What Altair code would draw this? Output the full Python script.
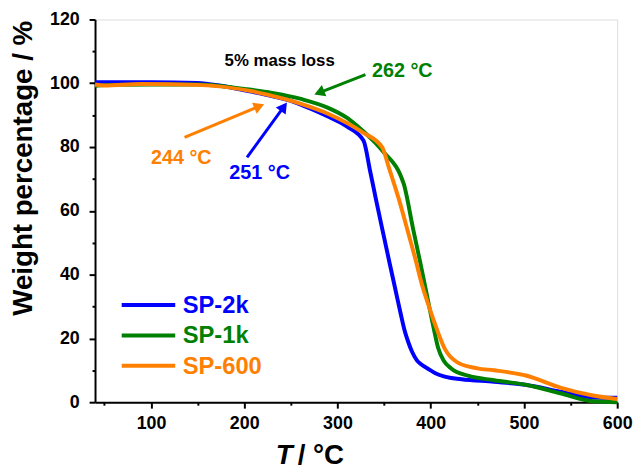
import math
import altair as alt
import pandas as pd

# ---------------- data ----------------
series = ["SP-2k", "SP-1k", "SP-600"]
colors = ["#0000FF", "#008000", "#FF8000"]

T_2k = [40, 100, 150, 175, 200, 225, 250, 270, 291, 310, 328, 335, 341, 349, 356, 362, 368, 372, 376, 380, 385, 390, 397, 405, 415, 433, 468, 503, 539, 574, 600]
W_2k = [100.3, 100.3, 100.1, 99.2, 97.8, 96.3, 94.5, 92.2, 89.4, 86.5, 82.0, 72.5, 64.0, 53.0, 43.5, 35.5, 27.5, 22.5, 18.8, 15.8, 13.2, 11.8, 10.5, 9.1, 8.0, 7.2, 6.4, 5.4, 3.3, 1.5, 1.4]

T_1k = [40, 60, 100, 150, 200, 230, 262, 290, 310, 327, 348, 371, 381, 389, 397, 403, 408, 414, 422, 440, 468, 503, 539, 574, 600]
W_1k = [99.2, 99.5, 99.6, 99.6, 98.2, 97.0, 95.0, 92.3, 89.2, 85.1, 78.9, 68.5, 54.5, 43.5, 32.0, 23.5, 17.0, 13.0, 10.6, 8.3, 6.9, 5.4, 2.8, 0.3, 0.0]

T_600 = [40, 50, 90, 150, 210, 244, 260, 291, 327, 348, 355, 366, 376, 383, 390, 397, 404, 415, 429, 450, 468, 503, 539, 574, 600]
W_600 = [99.6, 99.3, 99.8, 99.5, 97.4, 95.0, 93.6, 90.3, 84.6, 79.9, 73.7, 63.5, 53.0, 45.5, 37.5, 31.0, 25.0, 16.8, 12.4, 10.6, 10.0, 8.3, 4.6, 2.1, 1.0]

x_ticks = [50, 100, 150, 200, 250, 300, 350, 400, 450, 500, 550, 600]
y_ticks = [0, 10, 20, 30, 40, 50, 60, 70, 80, 90, 100, 110, 120]

# annotations: 5% mass-loss temperatures
ann_series = ["SP-2k", "SP-1k", "SP-600"]
ann_text = ["251 °C", "262 °C", "244 °C"]
ann_text_T = [184, 337, 100]
ann_text_w = [70, 102, 74.7]
arrow_T0 = [203, 330, 136]
arrow_w0 = [76.8, 102.7, 83]
arrow_T1 = [245.6, 275.5, 221]
arrow_w1 = [93.9, 96.5, 93.4]

# manual legend entries (data coordinates)
leg_T0, leg_T1, leg_Ttext = 68.6, 126, 134
leg_w = [30.5, 20.9, 11.4]

# ---------------- layout ----------------
XMIN, XMAX, YMIN, YMAX = 40, 600, 0, 120
W, H = 528, 387
FONT = "Liberation Sans"

xscale = alt.Scale(domain=[XMIN, XMAX], nice=False, zero=False)
yscale = alt.Scale(domain=[YMIN, YMAX], nice=False, zero=False)
cscale = alt.Scale(domain=series, range=colors)

xaxis = alt.Axis(
    values=x_ticks, title=None, grid=False,
    labelExpr="datum.value % 100 != 0 ? '' : datum.label",
    tickSize={"condition": {"test": "datum.value % 100 != 0", "value": 3}, "value": 6},
    tickWidth=2, tickColor="black", domainWidth=2, domainColor="black",
    labelFont=FONT, labelFontSize=18, labelFontWeight="bold", labelColor="black",
    labelPadding=7, labelFlush=False, labelOverlap=False,
)
yaxis = alt.Axis(
    values=y_ticks, title="Weight percentage / %", grid=False,
    labelExpr="datum.value % 20 != 0 ? '' : datum.label",
    tickSize={"condition": {"test": "datum.value % 20 != 0", "value": 3}, "value": 6},
    tickWidth=2, tickColor="black", domainWidth=2, domainColor="black",
    labelFont=FONT, labelFontSize=18, labelFontWeight="bold", labelColor="black",
    labelPadding=10, labelFlush=False, labelOverlap=False,
    titleFont=FONT, titleFontSize=28, titleFontWeight="bold", titleColor="black",
    titleX=-72, titleY=150, titleBaseline="middle", titleAlign="center", titleAngle=270,
)


def X(field="T"):
    return alt.X(f"{field}:Q", scale=xscale, axis=xaxis)


def Y(field="w"):
    return alt.Y(f"{field}:Q", scale=yscale, axis=yaxis)


def C():
    return alt.Color("s:N", scale=cscale, legend=None)


rows = []
for name, Ts, Ws in [("SP-2k", T_2k, W_2k), ("SP-1k", T_1k, W_1k), ("SP-600", T_600, W_600)]:
    for t, w in zip(Ts, Ws):
        rows.append({"s": name, "T": t, "w": w})
curves = pd.DataFrame(rows)

lines = alt.Chart(curves).mark_line(strokeWidth=4, interpolate="monotone").encode(
    x=X(), y=Y(), color=C(), detail="s:N", order=alt.Order("T:Q")
)

# arrows
px_x = (XMAX - XMIN) / W  # data units per pixel
px_y = (YMAX - YMIN) / H
arr_rows, head_rows = [], []
for s, t0, w0, t1, w1 in zip(ann_series, arrow_T0, arrow_w0, arrow_T1, arrow_w1):
    dxs = (t1 - t0) / px_x
    dys = -(w1 - w0) / px_y
    L = math.hypot(dxs, dys)
    ux, uy = dxs / L, dys / L
    ang = math.degrees(math.atan2(dxs, -dys)) % 360
    back = 5.0
    ht = t1 - ux * back * px_x
    hw = w1 + uy * back * px_y
    stop = 8.0
    arr_rows.append({"s": s, "T": t0, "w": w0, "T2": t1 - ux * stop * px_x, "w2": w1 + uy * stop * px_y})
    head_rows.append({"s": s, "T": ht, "w": hw, "ang": ang})

arrows = alt.Chart(pd.DataFrame(arr_rows)).mark_rule(strokeWidth=3).encode(
    x=X(), y=Y(), x2="T2:Q", y2="w2:Q", color=C()
)
heads = alt.Chart(pd.DataFrame(head_rows)).mark_point(
    shape="triangle-up", filled=True, size=150, opacity=1, strokeWidth=0
).encode(x=X(), y=Y(), color=C(), angle=alt.Angle("ang:Q", scale=None))

ann_df = pd.DataFrame({"s": ann_series, "T": ann_text_T, "w": ann_text_w, "txt": ann_text})
ann_txt = alt.Chart(ann_df).mark_text(
    align="left", baseline="alphabetic", font=FONT, fontSize=20, fontWeight="bold"
).encode(x=X(), y=Y(), color=C(), text="txt:N")

mass_df = pd.DataFrame({"T": [238], "w": [105.4], "txt": ["5% mass loss"]})
mass_txt = alt.Chart(mass_df).mark_text(
    align="center", baseline="alphabetic", font=FONT, fontSize=17, fontWeight="bold", color="black"
).encode(x=X(), y=Y(), text="txt:N")

# legend
leg_df = pd.DataFrame({"s": series, "T": [leg_T0] * 3, "T2": [leg_T1] * 3, "w": leg_w,
                       "Tt": [leg_Ttext] * 3})
leg_lines = alt.Chart(leg_df).mark_rule(strokeWidth=4).encode(
    x=X(), x2="T2:Q", y=Y(), color=C()
)
leg_txt = alt.Chart(leg_df).mark_text(
    align="left", baseline="middle", font=FONT, fontSize=24, fontWeight="bold", dy=1
).encode(x=X("Tt"), y=Y(), color=C(), text="s:N")

# x-axis title: italic T + " / °C"
xt_df = pd.DataFrame({"T": [252], "a": ["T"], "b": ["/ °C"]})
xt_T = alt.Chart(xt_df).mark_text(
    align="right", baseline="alphabetic", font=FONT, fontSize=28, fontWeight="bold",
    fontStyle="italic", color="black"
).encode(x=X(), y=alt.value(H + 62), text="a:N")
xt_rest = alt.Chart(xt_df).mark_text(
    align="left", baseline="alphabetic", font=FONT, fontSize=28, fontWeight="bold", color="black",
    dx=5
).encode(x=X(), y=alt.value(H + 62), text="b:N")

chart = alt.layer(
    lines, arrows, heads, ann_txt, mass_txt, leg_lines, leg_txt, xt_T, xt_rest
).properties(
    width=W, height=H,
    autosize=alt.AutoSizeParams(type="none"),
    padding={"left": 88, "top": 9, "right": 18, "bottom": 70},
).configure_view(stroke="black", strokeWidth=2).configure(background="white")

chart.save("out.html", embed_options={"renderer": "svg", "actions": False})
